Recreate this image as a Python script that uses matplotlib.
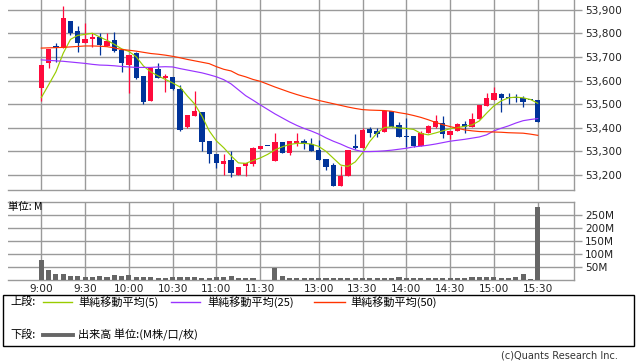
import matplotlib
matplotlib.use("Agg")
import matplotlib.pyplot as plt
from matplotlib.lines import Line2D
from matplotlib.patches import Rectangle

plt.rcParams["font.family"] = ["DejaVu Sans"]
JP = ["Noto Sans CJK JP", "DejaVu Sans"]

# 5-minute candles, 9:00 .. 11:30, one empty slot, 12:30 .. 15:30
opens = [53570, 53674, 53745, 53740, 53853, 53811, 53761, 53777, 53787, 53747,
         53773, 53730, 53667, 53716, 53620, 53515, 53650, 53613, 53616, 53565,
         53405, 53452, 53466, 53344, 53288, 53245, 53264, 53200, 53239, 53245,
         53310, 53322, 53257, 53341, 53292, 53337, 53344, 53331, 53306, 53268,
         53242, 53155, 53197, 53324, 53316, 53394, 53388, 53384, 53471, 53412,
         53367, 53367, 53324, 53377, 53405, 53422, 53370, 53388, 53416, 53405,
         53436, 53493, 53518, 53542, 53532, 53532, 53528, 53518, 53518]
highs = [53667, 53735, 53761, 53917, 53853, 53832, 53846, 53801, 53801, 53801,
         53807, 53730, 53709, 53723, 53620, 53655, 53676, 53628, 53616, 53582,
         53455, 53558, 53466, 53344, 53288, 53289, 53302, 53235, 53252, 53320,
         53324, 53322, 53377, 53341, 53344, 53379, 53352, 53358, 53348, 53268,
         53250, 53239, 53306, 53374, 53401, 53405, 53398, 53471, 53471, 53424,
         53440, 53367, 53388, 53413, 53455, 53450, 53388, 53420, 53430, 53462,
         53497, 53547, 53575, 53547, 53547, 53542, 53535, 53518, 53518]
lows = [53515, 53655, 53679, 53740, 53795, 53723, 53761, 53744, 53709, 53747,
        53723, 53638, 53549, 53606, 53500, 53512, 53610, 53553, 53560, 53388,
        53400, 53452, 53303, 53250, 53228, 53200, 53193, 53200, 53197, 53238,
        53310, 53322, 53257, 53294, 53285, 53324, 53310, 53303, 53264, 53221,
        53155, 53155, 53197, 53310, 53316, 53362, 53362, 53384, 53405, 53362,
        53320, 53320, 53324, 53377, 53399, 53356, 53351, 53388, 53379, 53405,
        53436, 53493, 53518, 53469, 53501, 53510, 53490, 53518, 53426]
closes = [53667, 53735, 53740, 53867, 53804, 53759, 53777, 53787, 53752, 53766,
          53727, 53674, 53709, 53613, 53511, 53655, 53610, 53620, 53565, 53391,
          53455, 53473, 53341, 53288, 53250, 53259, 53207, 53235, 53249, 53316,
          53324, 53322, 53339, 53294, 53344, 53344, 53331, 53303, 53264, 53235,
          53155, 53197, 53306, 53316, 53391, 53379, 53374, 53471, 53405, 53362,
          53360, 53324, 53379, 53408, 53430, 53373, 53388, 53416, 53405, 53436,
          53497, 53525, 53547, 53528, 53525, 53525, 53511, 53518, 53426]

ma5 = [53528, 53582, 53637, 53716, 53775, 53792, 53796, 53801, 53785, 53771,
       53754, 53735, 53724, 53701, 53662, 53637, 53620, 53605, 53590, 53573,
       53535, 53501, 53450, 53387, 53344, 53315, 53281, 53251, 53249, 53261,
       53272, 53287, 53306, 53319, 53329, 53334, 53334, 53331, 53321, 53300,
       53271, 53242, 53236, 53255, 53293, 53342, 53378, 53401, 53404, 53399,
       53397, 53393, 53376, 53370, 53378, 53387, 53396, 53401, 53406, 53412,
       53429, 53462, 53493, 53514, 53527, 53530, 53527, 53520, 53504]
ma25 = [53688, 53686, 53684, 53682, 53679, 53676, 53673, 53669, 53666, 53665,
        53663, 53660, 53658, 53656, 53656, 53656, 53658, 53659, 53658, 53651,
        53645, 53639, 53633, 53625, 53616, 53604, 53586, 53561, 53536, 53517,
        53497, 53478, 53459, 53442, 53425, 53410, 53397, 53386, 53373, 53357,
        53343, 53331, 53317, 53306, 53299, 53299, 53300, 53302, 53305, 53309,
        53313, 53319, 53322, 53326, 53331, 53337, 53343, 53347, 53351, 53356,
        53361, 53370, 53387, 53398, 53408, 53420, 53430, 53435, 53439]
ma50 = [53738, 53739, 53740, 53741, 53743, 53745, 53747, 53747, 53746, 53744,
        53739, 53732, 53729, 53725, 53720, 53715, 53712, 53708, 53703, 53697,
        53690, 53684, 53678, 53672, 53659, 53648, 53641, 53625, 53616, 53605,
        53597, 53585, 53573, 53562, 53551, 53541, 53532, 53524, 53516, 53509,
        53502, 53495, 53488, 53482, 53477, 53475, 53474, 53473, 53470, 53464,
        53459, 53452, 53444, 53434, 53423, 53413, 53405, 53398, 53391, 53387,
        53384, 53383, 53382, 53381, 53379, 53378, 53377, 53373, 53368]

volume_m = [77, 38, 23, 23, 15, 15, 13, 13, 15, 13,
            19, 15, 19, 13, 10, 10, 8, 8, 10, 10,
            10, 10, 8, 8, 13, 13, 15, 8, 8, 8,
            1, 0, 47, 15, 8, 8, 8, 8, 6, 8,
            8, 8, 8, 8, 6, 8, 8, 6, 8, 12,
            8, 8, 8, 8, 8, 6, 8, 8, 8, 10,
            10, 11, 11, 9, 7, 10, 23, 2, 281]

time_pos = [0, 6, 12, 18, 24, 30, 38, 44, 50, 56, 62, 68]
time_labels = ["9:00", "9:30", "10:00", "10:30", "11:00", "11:30",
               "13:00", "13:30", "14:00", "14:30", "15:00", "15:30"]
price_ticks = [53200, 53300, 53400, 53500, 53600, 53700, 53800, 53900]
vol_ticks = [50, 100, 150, 200, 250]

UP = "#ff0a3c"
DOWN = "#003399"
GRID = "#9a9a9a"
W, H = 638, 362


def px(x, y):
    return x / W, 1 - y / H


fig = plt.figure(figsize=(W / 100, H / 100), dpi=100)
ax = fig.add_axes([8 / W, 1 - 190 / H, 566 / W, 190 / H])
axv = fig.add_axes([8 / W, 1 - 280 / H, 566 / W, 78 / H])

xs = list(range(len(opens)))
for a in (ax, axv):
    a.set_xlim(-4.56, 72.97)
    a.set_xticks(time_pos)
    a.grid(True, color=GRID, lw=1.0)
    a.set_axisbelow(True)
    for s in a.spines.values():
        s.set_color(GRID)
        s.set_linewidth(1.0)
    a.spines["left"].set_visible(False)
    a.yaxis.tick_right()
    a.tick_params(axis="y", length=6, color=GRID, width=1.0, pad=2,
                  labelsize=7.6, labelcolor="#222222")

# candles
colors = [UP if c > o else DOWN for o, c in zip(opens, closes)]
ax.vlines(xs, lows, highs, colors=colors, lw=0.9, zorder=2)
bottoms = [min(o, c) for o, c in zip(opens, closes)]
heights = [max(abs(c - o), 4) for o, c in zip(opens, closes)]
ax.bar(xs, heights, bottom=bottoms, width=0.72, color=colors, lw=0, zorder=3)

ax.plot(xs, ma5, color="#99cc00", lw=0.85, zorder=4)
ax.plot(xs, ma25, color="#9933ff", lw=0.85, zorder=4)
ax.plot(xs, ma50, color="#ff3300", lw=0.85, zorder=4)

ax.set_ylim(53136, 53942)
ax.set_yticks(price_ticks)
ax.set_yticklabels([f"{p:,}" for p in price_ticks])
ax.spines["top"].set_visible(False)
ax.tick_params(axis="x", length=0, labelbottom=False)

# volume
axv.bar(xs, volume_m, width=0.7, color="#666666", lw=0, zorder=3)
axv.set_ylim(0, 300)
axv.set_yticks(vol_ticks)
axv.set_yticklabels([f"{v}M" for v in vol_ticks])
axv.set_xticklabels(time_labels)
axv.tick_params(axis="x", length=0, pad=3, labelsize=7.6, labelcolor="#222222")
axv.text(0, 1, "単位: M", transform=axv.transAxes, ha="left", va="top",
         fontsize=7.5, family=JP)

# legend box
fig.add_artist(Rectangle(px(3, 346), 631 / W, 51 / H, transform=fig.transFigure,
                         fill=False, ec="black", lw=1.0))
rows = [
    (302, [("#99cc00", 1.0, 43, 72, 78, "単純移動平均(5)"),
           ("#9933ff", 1.0, 171, 200, 207, "単純移動平均(25)"),
           ("#ff3300", 1.0, 314, 345, 350, "単純移動平均(50)")], "上段:"),
    (335, [("#666666", 2.8, 43, 73, 78, "出来高 単位:(M株/口/枚)")], "下段:"),
]
for y, items, head in rows:
    fig.text(*px(10, y), head, fontsize=8, family=JP, va="center")
    for col, lw, x0, x1, tx, label in items:
        fig.add_artist(Line2D([x0 / W, x1 / W], [1 - y / H, 1 - y / H],
                              transform=fig.transFigure, color=col, lw=lw))
        fig.text(*px(tx, y), label, fontsize=8, family=JP, va="center")

fig.text(*px(618, 356), "(c)Quants Research Inc.", fontsize=7, ha="right",
         va="center", color="#333333")

fig.savefig("out.png", dpi=100)
